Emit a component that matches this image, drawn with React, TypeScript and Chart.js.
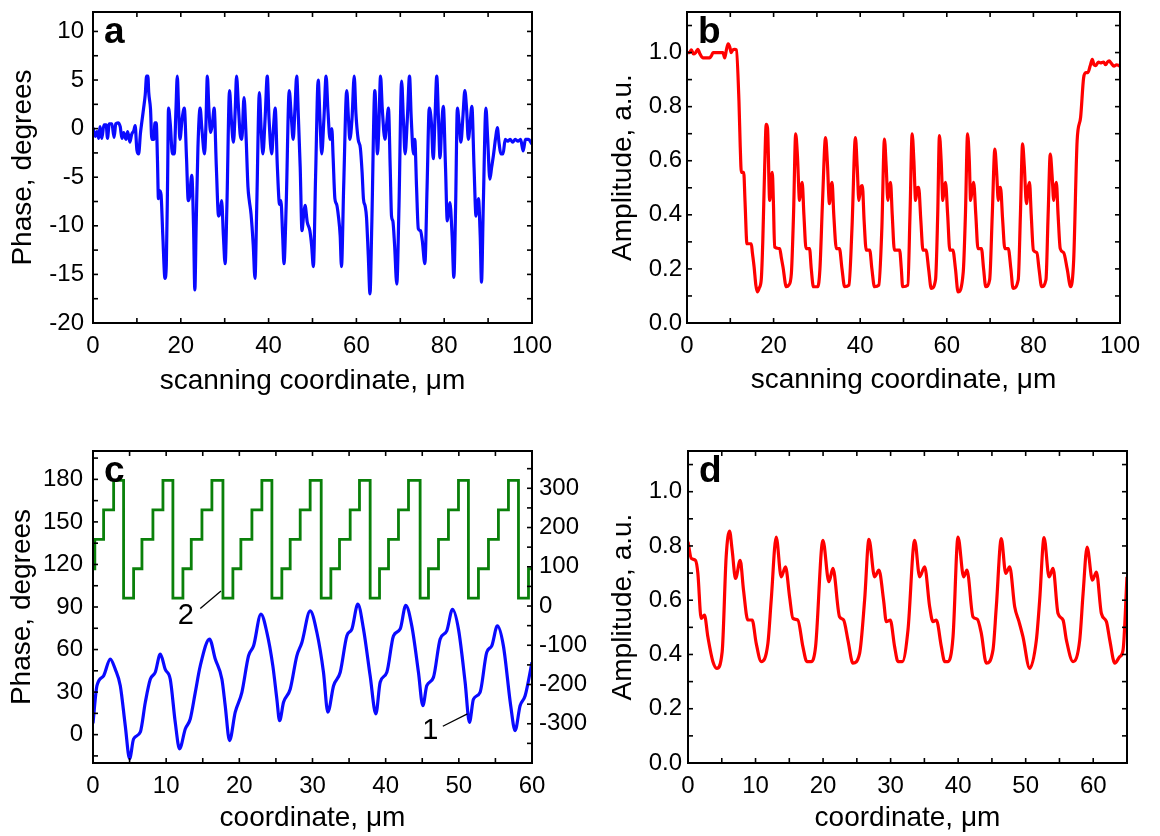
import React, { useEffect, useRef } from 'react';
import { Chart, registerables } from 'chart.js';

Chart.register(...registerables);

// ---------------- DATA ----------------
// Panel a: phase vs scanning coordinate (µm, degrees)
const scanPhaseX = [
  0, 0.5, 0.9, 1.3, 1.6, 2.0, 2.5, 3.0, 3.3, 3.7,
  4.3, 4.8, 5.2, 5.7, 6.2, 6.6, 7.0, 7.5, 7.9, 8.4,
  8.8, 9.3, 9.6, 10.0, 10.4, 10.8, 11.1, 11.5, 11.9, 12.2,
  12.5, 12.7, 13.1, 13.4, 13.9, 14.1, 14.4, 14.7, 14.9, 15.2,
  15.5, 15.9, 16.4, 16.7, 17.0, 17.2, 17.6, 18.1, 18.5, 18.9,
  19.2, 19.5, 19.8, 20.3, 20.8, 21.3, 21.7, 22.0, 22.5, 22.9,
  23.2, 23.5, 23.9, 24.4, 24.8, 25.4, 25.7, 26.05, 26.4, 26.8,
  27.2, 27.6, 28.1, 28.6, 29.0, 29.3, 29.7, 30.1, 30.5, 31.1,
  31.5, 32.0, 32.4, 32.7, 33.1, 33.5, 33.9, 34.4, 34.8, 35.3,
  35.6, 36.0, 36.5, 36.9, 37.3, 37.9, 38.3, 38.7, 39.2, 39.7,
  40.1, 40.7, 41.1, 41.5, 42.0, 42.5, 42.8, 43.2, 43.5, 44.0,
  44.7, 45.2, 45.6, 46.0, 46.4, 46.8, 47.2, 47.6, 48.0, 48.3,
  48.8, 49.4, 49.8, 50.2, 50.7, 51.3, 51.7, 52.1, 52.6, 53.1,
  53.5, 54.0, 54.4, 54.7, 55.1, 55.5, 55.9, 56.3, 56.6, 57.1,
  57.8, 58.2, 58.5, 59.0, 59.5, 59.9, 60.4, 60.9, 61.3, 61.6,
  62.0, 62.3, 62.7, 63.1, 63.5, 64.2, 64.8, 65.1, 65.5, 65.9,
  66.5, 66.9, 67.3, 67.7, 68.0, 68.3, 68.7, 69.2, 69.7, 70.3,
  70.7, 71.1, 71.6, 72.1, 72.5, 73.0, 73.3, 73.7, 74.1, 74.6,
  75.0, 75.6, 76.1, 76.6, 77.1, 77.5, 77.9, 78.3, 78.7, 79.05,
  79.4, 79.8, 80.3, 80.7, 81.0, 81.3, 81.8, 82.2, 82.6, 83.0,
  83.4, 83.8, 84.3, 84.7, 85.1, 85.5, 85.9, 86.3, 86.8, 87.25,
  87.5, 87.8, 88.2, 88.5, 88.9, 89.5, 89.9, 90.4, 90.8, 91.2,
  91.7, 92.1, 92.5, 92.9, 93.4, 93.9, 94.5, 95.0, 95.6, 96.2,
  96.8, 97.4, 98.0, 98.5, 99.2, 100,
];
const scanPhaseY = [
  0.1, -0.8, -0.3, -1.0, 0.2, -1.0, 0.4, 0.4, -1.0, 0.5,
  0.5, -0.9, 0.5, 0.6, 0.2, -1.0, -0.4, -1.1, -0.3, -1.4,
  -0.6, -0.2, 0.3, -2.2, -2.6, -0.5, 0.6, 2.0, 3.5, 5.4,
  5.4, 3.7, 2.0, -1.1, -1.1, 0.6, 0.6, -3.5, -7.2, -6.4,
  -6.8, -11, -15.4, -14, -5, 2.1, 0.5, -2.6, -2.6, 2.0,
  5.4, 2.0, -1.1, 1.0, 2.1, -3, -7.4, -7.0, -4.8, -10,
  -16.6, -10, -2, 2.1, 0, -2.6, 0, 5.4, 2.0, -0.4,
  0.5, 2.1, -4, -9, -8.5, -7.4, -11, -13.9, -8, 3.9,
  1.0, -1.4, 2, 5.4, 2.5, -0.5, -1.1, 3.2, 0, -6,
  -7.4, -8.8, -12, -15.4, -8, 3.7, 0, -2.6, 1, 5.4,
  1, -2.6, 0, 2.1, -4, -7.8, -7.4, -11, -13.9, -8,
  3.9, 1, -1.1, 2, 5.4, 1, -4, -10.5, -8.8, -7.9,
  -9.6, -10.5, -12, -14.2, -5, 5.0, 1, -2.6, 1, 5.4,
  2, -1.1, 0, -3, -7.2, -7.8, -9, -11, -14.2, -6,
  3.9, 1, -1.1, 1, 5.4, 1.5, -1.1, -2, -4.5, -7.2,
  -8, -9.1, -13, -17, -10, 3.9, -2.6, 0, 5.4, 2,
  -1.1, 0.5, 2.1, -4, -9, -9.5, -12, -16, -8, 4.9,
  1, -2.6, 1, 5.4, 1, -2.6, -1.1, -6, -10.3, -10.5,
  -11.5, -13.9, -6, 2.1, 0.5, -3.1, 1, 5.4, 1, -3,
  0, 2.3, -4, -9.5, -8.5, -7.6, -11, -15.3, -8, 2.1,
  0.5, -1.4, 1.5, 3.9, 2, -1.1, 0.5, 2.3, -4, -9,
  -8, -7.2, -11, -15.8, -8, 2.1, -1, -5.2, -4, -2.8,
  -1, 0.1, -1.5, -2.6, -2.6, -1.1, -1.3, -1.1, -1.4, -1.1,
  -1.3, -1.1, -2.3, -1.1, -1.1, -1.6,
];

// Panel b: amplitude vs scanning coordinate
const scanAmpX = [
  0, 0.6, 1.0, 1.5, 2.0, 2.5, 3.0, 3.7, 4.5, 5.2,
  5.7, 6.0, 7.0, 8.3, 8.7, 9.1, 9.5, 9.9, 10.2, 10.6,
  11.0, 11.4, 12.0, 12.3, 12.55, 13.1, 13.4, 13.85, 14.85, 15.1,
  15.5, 15.9, 16.24, 16.7, 17.17, 17.5, 17.94, 18.3, 18.6, 19.1,
  19.4, 19.7, 19.95, 20.24, 21.4, 21.8, 22.17, 22.94, 23.5, 24.1,
  24.6, 25.1, 25.5, 26.0, 26.3, 26.6, 27.0, 27.5, 28.3, 28.7,
  29.2, 30.2, 30.7, 31.3, 32.0, 32.4, 32.9, 33.2, 33.5, 33.9,
  34.5, 35.2, 35.8, 36.4, 37.4, 38.1, 38.9, 39.3, 39.7, 40.1,
  40.5, 40.9, 41.4, 42.2, 42.7, 43.3, 44.3, 45.0, 45.6, 46.0,
  46.4, 46.7, 47.0, 47.4, 47.9, 49.1, 49.5, 49.8, 51.0, 51.5,
  52.0, 52.4, 52.8, 53.2, 53.5, 54.0, 54.5, 55.2, 55.8, 56.4,
  57.4, 57.9, 58.3, 58.7, 59.1, 59.4, 59.7, 60.2, 60.7, 61.4,
  62.0, 62.6, 63.8, 64.3, 64.8, 65.2, 65.5, 65.9, 66.2, 66.7,
  67.2, 68.0, 68.5, 69.0, 69.9, 70.5, 71.1, 71.5, 71.9, 72.2,
  72.4, 72.9, 73.4, 74.2, 74.8, 75.3, 76.5, 77.0, 77.5, 77.9,
  78.4, 78.8, 79.1, 79.5, 80.0, 80.8, 81.3, 81.9, 82.9, 83.4,
  83.9, 84.3, 84.7, 85.0, 85.3, 85.7, 86.2, 87.0, 87.8, 88.6,
  89.3, 90.1, 90.9, 91.6, 92.1, 92.6, 93.1, 93.6, 94.0, 94.4,
  95.0, 95.5, 96.2, 96.7, 97.1, 97.5, 98.0, 98.6, 99.2, 100,
];
const scanAmpY = [
  1.0, 1.0, 1.01, 0.995, 1.0, 1.012, 0.995, 0.98, 0.98, 0.98,
  0.99, 1.0, 1.0, 1.0, 0.98, 1.01, 1.032, 1.02, 1.0, 1.01,
  1.012, 1.01, 0.82, 0.65, 0.557, 0.557, 0.45, 0.293, 0.293, 0.26,
  0.207, 0.14, 0.115, 0.13, 0.165, 0.3, 0.576, 0.735, 0.72, 0.453,
  0.52, 0.557, 0.45, 0.281, 0.275, 0.24, 0.207, 0.134, 0.14, 0.183,
  0.4, 0.699, 0.62, 0.453, 0.5, 0.52, 0.4, 0.275, 0.275, 0.2,
  0.134, 0.134, 0.2, 0.45, 0.686, 0.6, 0.441, 0.5, 0.52, 0.4,
  0.275, 0.275, 0.2, 0.134, 0.14, 0.35, 0.686, 0.58, 0.453, 0.5,
  0.508, 0.38, 0.269, 0.27, 0.2, 0.134, 0.14, 0.35, 0.68, 0.58,
  0.453, 0.5, 0.52, 0.4, 0.269, 0.27, 0.2, 0.134, 0.14, 0.4,
  0.699, 0.6, 0.453, 0.5, 0.502, 0.38, 0.269, 0.27, 0.2, 0.128,
  0.16, 0.4, 0.693, 0.6, 0.453, 0.5, 0.52, 0.4, 0.269, 0.27,
  0.2, 0.115, 0.189, 0.4, 0.699, 0.6, 0.453, 0.5, 0.52, 0.4,
  0.275, 0.275, 0.2, 0.134, 0.16, 0.4, 0.643, 0.56, 0.453, 0.5,
  0.502, 0.38, 0.275, 0.275, 0.2, 0.128, 0.16, 0.4, 0.662, 0.58,
  0.441, 0.5, 0.52, 0.4, 0.269, 0.26, 0.2, 0.134, 0.16, 0.4,
  0.625, 0.55, 0.453, 0.5, 0.52, 0.4, 0.275, 0.26, 0.2, 0.134,
  0.232, 0.674, 0.76, 0.907, 0.926, 0.926, 0.95, 0.975, 0.955, 0.952,
  0.965, 0.962, 0.965, 0.955, 0.965, 0.969, 0.96, 0.95, 0.955, 0.95,
];

// Panel c, curve 1: phase (left axis, degrees)
const coordPhaseX = [
  0, 0.54, 1.45, 2.36, 3.05, 3.73, 4.41, 5.0, 5.55, 6.46,
  7.15, 7.83, 8.51, 9.2, 9.88, 10.56, 11.24, 11.83, 12.61, 13.29,
  13.98, 14.66, 15.93, 16.71, 17.62, 18.07, 18.66, 19.44, 20.35, 21.26,
  21.95, 22.95, 23.77, 24.58, 25.13, 25.5, 26.04, 26.95, 27.86, 28.55,
  29.68, 30.6, 31.5, 32.1, 32.88, 33.79, 34.7, 35.38, 36.2, 36.97,
  37.88, 38.66, 39.25, 40.16, 41.07, 41.98, 42.75, 43.57, 44.48, 45.08,
  45.62, 46.53, 47.44, 48.35, 49.13, 49.95, 50.86, 51.45, 52.0, 52.9,
  53.81, 54.5, 55.27, 56.09, 57.09, 57.69, 58.37, 59.06, 60,
];
const coordPhaseY = [
  8, 34.5, 41.5, 53.3, 46, 34.5, 6.3, -17, -3, 1.7,
  22.8, 39, 44, 56.8, 46, 39, 8.7, -10, 4, 11,
  29.8, 48.5, 67.3, 53.3, 39, 20.4, -4.2, 15.8, 29.8, 55.6,
  62.6, 85, 72, 48.5, 25, 9.8, 22.8, 32, 55.6, 65,
  87.2, 72, 44, 15.8, 34.5, 44, 69.7, 74.4, 92, 74.4,
  41.5, 14.6, 36.9, 44, 69.7, 74.4, 91.2, 76.7, 44, 20.4,
  34.5, 40.4, 67.3, 73.2, 88.4, 74.4, 36.9, 8.7, 25, 29.8,
  58, 62.6, 76.7, 62.6, 20.4, 2.8, 20.4, 27.4, 51,
];

// Panel c, curve 2: step levels (right axis); each level holds from its x to the next x
const stepX = [
  0, 0.25, 1.45, 2.82, 4.18,
  5.55, 6.69, 8.19, 9.56, 10.92,
  12.29, 13.43, 14.89, 16.25, 17.76,
  19.12, 20.21, 21.72, 23.08, 24.45,
  25.81, 26.95, 28.32, 29.68, 31.19,
  32.51, 33.69, 35.15, 36.42, 37.88,
  39.16, 40.39, 41.75, 43.12, 44.71,
  45.85, 47.22, 48.58, 49.95, 51.31,
  52.68, 54.05, 55.41, 56.78, 58.15,
  59.52, 60,
];
const stepY = [
  95, 170, 245, 320, 20,
  95, 170, 245, 320, 20,
  95, 170, 245, 320, 20,
  95, 170, 245, 320, 20,
  95, 170, 245, 320, 20,
  95, 170, 245, 320, 20,
  95, 170, 245, 320, 20,
  95, 170, 245, 320, 20,
  95, 170, 245, 320, 20,
  95, 95,
];

// Panel d: amplitude vs coordinate
const coordAmpX = [
  0, 0.49, 1.11, 1.46, 1.95, 2.44, 2.94, 3.68, 4.27, 5.06,
  5.65, 6.15, 6.54, 7.04, 7.73, 8.22, 8.86, 9.5, 10.1, 10.84,
  11.83, 12.32, 13.06, 13.8, 14.44, 15.04, 15.53, 16.27, 17.01, 17.6,
  18.25, 18.89, 19.98, 20.86, 21.46, 22.44, 23.04, 23.68, 24.42, 25.41,
  26.15, 26.79, 27.63, 28.27, 28.96, 29.36, 29.95, 30.59, 31.09, 31.73,
  32.57, 33.56, 34.3, 35.04, 35.78, 36.27, 36.77, 37.51, 38.0, 38.5,
  39.24, 39.98, 40.81, 41.31, 42.2, 42.84, 43.43, 44.17, 45.16, 45.65,
  46.39, 47.04, 47.63, 48.37, 49.01, 49.6, 50.59, 51.58, 52.07, 52.72,
  53.46, 54.05, 54.79, 55.53, 56.03, 57.01, 58.0, 58.5, 59.09, 59.88,
  60.47, 61.21, 61.95, 62.45, 63.19, 63.93, 64.42, 65,
];
const coordAmpY = [
  0.815, 0.754, 0.747, 0.699, 0.533, 0.545, 0.465, 0.374, 0.349, 0.41,
  0.76, 0.855, 0.784, 0.68, 0.747, 0.637, 0.527, 0.527, 0.441, 0.374,
  0.441, 0.6, 0.833, 0.686, 0.723, 0.613, 0.533, 0.527, 0.429, 0.374,
  0.374, 0.429, 0.821, 0.668, 0.717, 0.539, 0.527, 0.453, 0.368, 0.404,
  0.6, 0.824, 0.686, 0.711, 0.6, 0.521, 0.527, 0.429, 0.374, 0.374,
  0.49, 0.821, 0.686, 0.723, 0.576, 0.521, 0.527, 0.429, 0.374, 0.374,
  0.465, 0.833, 0.686, 0.711, 0.539, 0.53, 0.478, 0.368, 0.417, 0.576,
  0.827, 0.699, 0.723, 0.576, 0.521, 0.465, 0.349, 0.453, 0.6, 0.831,
  0.686, 0.717, 0.551, 0.527, 0.453, 0.374, 0.453, 0.625, 0.796, 0.674,
  0.704, 0.551, 0.521, 0.453, 0.368, 0.392, 0.417, 0.686,
];

// Annotation labels in panel c (data coordinates, left axis)
const curveLabel2 = { text: '2', x: 12.7, y: 83.5, from: [14.66, 88.9], to: [17.49, 101.3] };
const curveLabel1 = { text: '1', x: 46.1, y: 2.6, from: [47.81, 5.9], to: [51.17, 14.6] };

// ---------------- STYLE / LAYOUT ----------------
const FONT = '"Liberation Sans", Arial, Helvetica, sans-serif';
const TICK_SIZE = 24;
const TITLE_SIZE = 28;
const TITLE_LH = TITLE_SIZE * 1.2;
const MIDDLE_SHIFT = 9.7; // alphabetic baseline -> 'middle' baseline at 28px
const TICK_LEN = 5;

const BLUE = '#0a0aff';
const RED = '#ff0000';
const GREEN = '#0a800a';

const pts = (xs: number[], ys: number[]) => xs.map((x, i) => ({ x, y: ys[i] }));
const isMult = (v: number, k: number) => Math.abs(v / k - Math.round(v / k)) < 1e-6;

const framePlugin = {
  id: 'panelFrame',
  afterDatasetsDraw(chart: any, _args: any, opts: any) {
    const { ctx, chartArea } = chart;
    const { left, right, top, bottom } = chartArea;
    ctx.save();
    ctx.strokeStyle = '#000';
    ctx.lineWidth = 2;
    ctx.strokeRect(left, top, right - left, bottom - top);
    ctx.lineWidth = 1.6;
    const seg = (x1: number, y1: number, x2: number, y2: number) => {
      ctx.beginPath();
      ctx.moveTo(x1, y1);
      ctx.lineTo(x2, y2);
      ctx.stroke();
    };
    const inside = (p: number, a: number, b: number) => p > a + 1 && p < b - 1;
    const xs = chart.scales.x;
    for (const t of xs.ticks) {
      const px = xs.getPixelForValue(t.value);
      if (!inside(px, left, right)) continue;
      seg(px, bottom, px, bottom - TICK_LEN);
      seg(px, top, px, top + TICK_LEN);
    }
    const yl = chart.scales.y;
    const yr = chart.scales.y2 || yl;
    for (const t of yl.ticks) {
      const py = yl.getPixelForValue(t.value);
      if (!inside(py, top, bottom)) continue;
      seg(left, py, left + TICK_LEN, py);
    }
    for (const t of yr.ticks) {
      const py = yr.getPixelForValue(t.value);
      if (!inside(py, top, bottom)) continue;
      seg(right, py, right - TICK_LEN, py);
    }
    ctx.fillStyle = '#000';
    ctx.font = `bold 37px ${FONT}`;
    ctx.textAlign = 'left';
    ctx.textBaseline = 'alphabetic';
    ctx.fillText(opts.letter, left + 11, top + 31);
    for (const n of opts.notes || []) {
      ctx.lineWidth = 1.3;
      seg(xs.getPixelForValue(n.from[0]), yl.getPixelForValue(n.from[1]),
        xs.getPixelForValue(n.to[0]), yl.getPixelForValue(n.to[1]));
      ctx.font = `29px ${FONT}`;
      ctx.textAlign = 'center';
      ctx.textBaseline = 'middle';
      ctx.fillText(n.text, xs.getPixelForValue(n.x), yl.getPixelForValue(n.y));
    }
    ctx.restore();
  },
};

type Rect = { left: number; top: number; w: number; h: number };
type Area = { l: number; t: number; r: number; b: number };

interface PanelSpec {
  canvas: Rect;
  area: Area;
  yTitleMid: number;
  xTitleBase: number;
  letter: string;
  x: { min: number; max: number; step: number; every: number; title: string };
  y: { min: number; max: number; step: number; every: number; title: string; fmt: (v: number) => string; pad: number };
  y2?: { min: number; max: number; step: number; every: number; lim: number; pad: number };
  datasets: any[];
  notes?: any[];
}

function buildConfig(p: PanelSpec): any {
  const { canvas, area } = p;
  const yWidth = area.l - canvas.left;
  const padTop = area.t - canvas.top;
  const xHeight = canvas.top + canvas.h - area.b;
  const rightSpace = canvas.left + canvas.w - area.r;
  const yTitlePad = p.yTitleMid - canvas.left - TITLE_LH / 2;
  const xTitlePad = canvas.top + canvas.h - (p.xTitleBase - MIDDLE_SHIFT) - TITLE_LH / 2;
  const tickFont = { family: FONT, size: TICK_SIZE };
  const titleFont = { family: FONT, size: TITLE_SIZE };

  const scales: any = {
    x: {
      type: 'linear',
      position: 'bottom',
      min: p.x.min,
      max: p.x.max,
      grid: { display: false, drawTicks: false },
      border: { display: false },
      ticks: {
        stepSize: p.x.step,
        includeBounds: false,
        autoSkip: false,
        maxRotation: 0,
        minRotation: 0,
        padding: 9,
        color: '#000',
        font: tickFont,
        callback: (v: number) => (isMult(v, p.x.every) ? String(Math.round(v)) : ''),
      },
      title: { display: true, text: p.x.title, color: '#000', font: titleFont, padding: { top: 0, bottom: xTitlePad } },
      afterFit: (s: any) => {
        s.height = xHeight;
        s.paddingLeft = 0; s.paddingRight = 0; s.paddingTop = 0; s.paddingBottom = 0;
      },
    },
    y: {
      type: 'linear',
      position: 'left',
      min: p.y.min,
      max: p.y.max,
      grid: { display: false, drawTicks: false },
      border: { display: false },
      ticks: {
        stepSize: p.y.step,
        includeBounds: false,
        autoSkip: false,
        padding: p.y.pad,
        color: '#000',
        font: tickFont,
        callback: (v: number) => (isMult(v, p.y.every) ? p.y.fmt(v) : ''),
      },
      title: { display: true, text: p.y.title, color: '#000', font: titleFont, padding: { top: yTitlePad, bottom: 0 } },
      afterFit: (s: any) => {
        s.width = yWidth;
        s.paddingLeft = 0; s.paddingRight = 0; s.paddingTop = 0; s.paddingBottom = 0;
      },
    },
  };
  if (p.y2) {
    const y2 = p.y2;
    scales.y2 = {
      type: 'linear',
      position: 'right',
      min: y2.min,
      max: y2.max,
      grid: { display: false, drawTicks: false },
      border: { display: false },
      ticks: {
        stepSize: y2.step,
        includeBounds: false,
        autoSkip: false,
        padding: y2.pad,
        color: '#000',
        font: tickFont,
        callback: (v: number) => (isMult(v, y2.every) && Math.abs(v) <= y2.lim ? String(Math.round(v)) : ''),
      },
      afterFit: (s: any) => {
        s.width = rightSpace;
        s.paddingLeft = 0; s.paddingRight = 0; s.paddingTop = 0; s.paddingBottom = 0;
      },
    };
  }

  return {
    type: 'line',
    data: { datasets: p.datasets },
    options: {
      responsive: false,
      animation: false,
      devicePixelRatio: 1,
      layout: { padding: { left: 0, top: padTop, right: p.y2 ? 0 : rightSpace, bottom: 0 } },
      scales,
      plugins: {
        legend: { display: false },
        tooltip: { enabled: false },
        panelFrame: { letter: p.letter, notes: p.notes || [] },
      },
      elements: { point: { radius: 0 } },
    },
    plugins: [framePlugin],
  };
}

const lineDs = (data: any[], color: string, extra: any = {}) => ({
  data,
  borderColor: color,
  backgroundColor: color,
  borderWidth: 3.2,
  pointRadius: 0,
  fill: false,
  cubicInterpolationMode: 'monotone',
  yAxisID: 'y',
  ...extra,
});

const intFmt = (v: number) => String(Math.round(v));
const oneDec = (v: number) => v.toFixed(1);

const PANELS: PanelSpec[] = [
  {
    canvas: { left: 0, top: 0, w: 585, h: 418 },
    area: { l: 93, t: 12, r: 532, b: 323 },
    yTitleMid: 23,
    xTitleBase: 391,
    letter: 'a',
    x: { min: 0, max: 100, step: 10, every: 20, title: 'scanning coordinate, μm' },
    y: { min: -20, max: 12, step: 2.5, every: 5, title: 'Phase, degrees', fmt: intFmt, pad: 9 },
    datasets: [lineDs(pts(scanPhaseX, scanPhaseY), BLUE)],
  },
  {
    canvas: { left: 585, top: 0, w: 575, h: 418 },
    area: { l: 687, t: 12, r: 1120, b: 323 },
    yTitleMid: 623.5,
    xTitleBase: 390,
    letter: 'b',
    x: { min: 0, max: 100, step: 10, every: 20, title: 'scanning coordinate, μm' },
    y: { min: 0, max: 1.15, step: 0.1, every: 0.2, title: 'Amplitude, a.u.', fmt: oneDec, pad: 5 },
    datasets: [lineDs(pts(scanAmpX, scanAmpY), RED)],
  },
  {
    canvas: { left: 0, top: 418, w: 600, h: 418 },
    area: { l: 93, t: 451, r: 532, b: 763 },
    yTitleMid: 22,
    xTitleBase: 828,
    letter: 'c',
    x: { min: 0, max: 60, step: 5, every: 10, title: 'coordinate, μm' },
    y: { min: -20, max: 200, step: 15, every: 30, title: 'Phase, degrees', fmt: intFmt, pad: 10 },
    y2: { min: -400, max: 395, step: 50, every: 100, lim: 300, pad: 7 },
    datasets: [
      lineDs(pts(stepX, stepY), GREEN, { stepped: true, borderWidth: 2.8, yAxisID: 'y2', cubicInterpolationMode: 'default' }),
      lineDs(pts(coordPhaseX, coordPhaseY), BLUE),
    ],
    notes: [curveLabel2, curveLabel1],
  },
  {
    canvas: { left: 600, top: 418, w: 560, h: 418 },
    area: { l: 688, t: 451, r: 1127, b: 763 },
    yTitleMid: 623.5,
    xTitleBase: 828,
    letter: 'd',
    x: { min: 0, max: 65, step: 5, every: 10, title: 'coordinate, μm' },
    y: { min: 0, max: 1.15, step: 0.1, every: 0.2, title: 'Amplitude, a.u.', fmt: oneDec, pad: 6 },
    datasets: [lineDs(pts(coordAmpX, coordAmpY), RED)],
  },
];

export default function App() {
  const r0 = useRef<HTMLCanvasElement>(null);
  const r1 = useRef<HTMLCanvasElement>(null);
  const r2 = useRef<HTMLCanvasElement>(null);
  const r3 = useRef<HTMLCanvasElement>(null);
  const refs = [r0, r1, r2, r3];

  useEffect(() => {
    const charts = PANELS.map((p, i) => new Chart(refs[i].current as HTMLCanvasElement, buildConfig(p)));
    return () => charts.forEach((c) => c.destroy());
  }, []);

  return (
    <div style={{ position: 'absolute', left: 0, top: 0, width: 1160, height: 836, background: '#fff', overflow: 'hidden' }}>
      {PANELS.map((p, i) => (
        <canvas
          key={i}
          ref={refs[i]}
          width={p.canvas.w}
          height={p.canvas.h}
          style={{ position: 'absolute', left: p.canvas.left, top: p.canvas.top, width: p.canvas.w, height: p.canvas.h }}
        />
      ))}
    </div>
  );
}
